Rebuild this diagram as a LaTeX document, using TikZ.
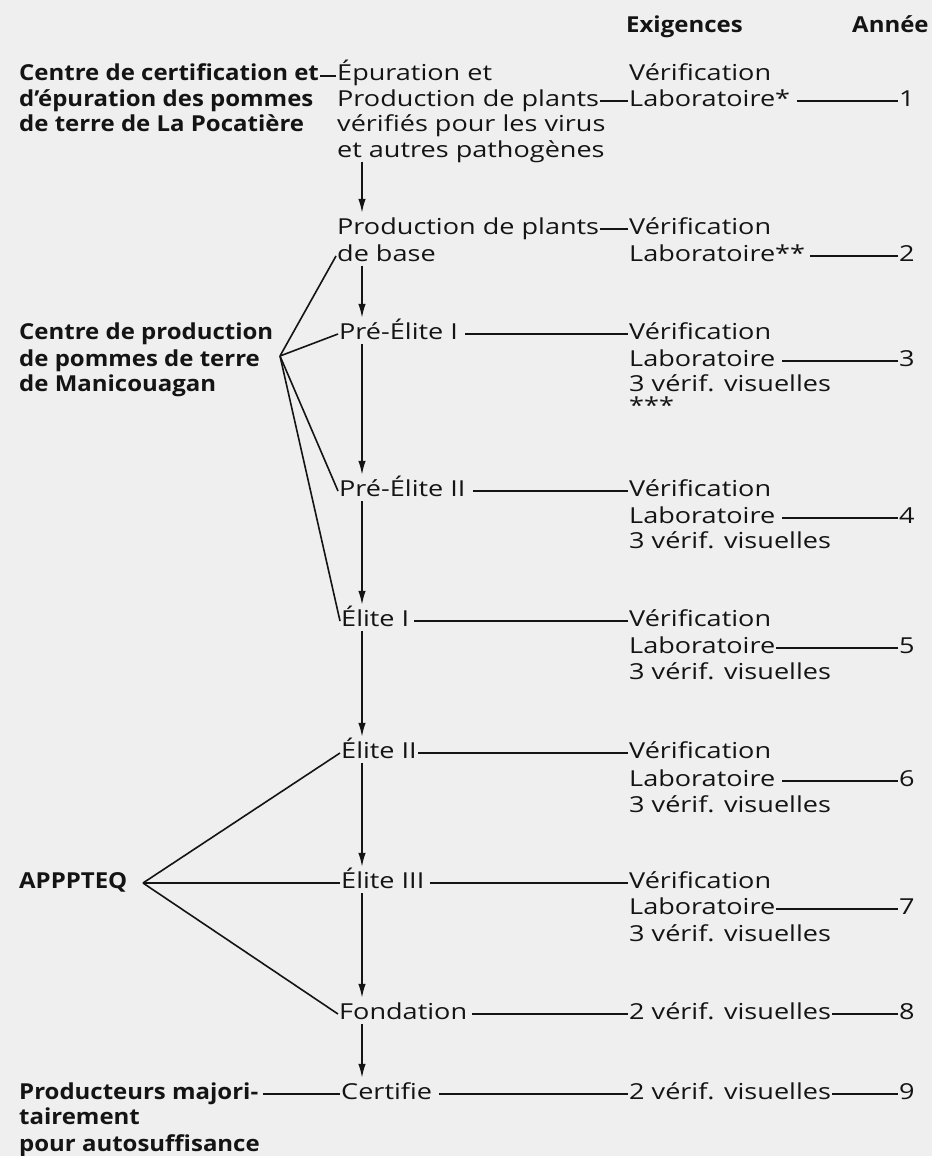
\documentclass[tikz,border=0pt]{standalone}
\usepackage{fontspec}
\setmainfont{Open Sans}[FakeStretch=1.23, BoldFeatures={FakeStretch=1.09}]
\usetikzlibrary{arrows.meta}
\definecolor{bg}{HTML}{EFEFEF}
\definecolor{ink}{HTML}{141414}
\begin{document}
\begin{tikzpicture}[x=1pt,y=-1pt,
  txt/.style={anchor=base west, inner xsep=1pt, inner ysep=0pt, text height=15pt, text depth=5pt, font=\fontsize{22}{26}\selectfont, text=ink},
  hd/.style={txt, font=\fontsize{22}{26}\selectfont\bfseries},
  ln/.style={line width=1.6pt, draw=ink},
  arr/.style={ln, shorten >=6pt, -{Latex[length=14pt,width=7.5pt]}},
]
\fill[bg] (0,0) rectangle (932,1156);
\useasboundingbox (0,0) rectangle (932,1156);
\coordinate (ax) at (362,0);
% headers
\node[hd] (hex) at (625,33) {Exigences};
\node[hd] (han) at (851,33) {Année};
% left column
\node[hd] (c1a) at (18,81) {Centre de certification et};
\node[hd] (c1b) at (18,106) {d’épuration des pommes};
\node[hd] (c1c) at (18,131) {de terre de La Pocatière};
\node[hd] (c2a) at (18,339) {Centre de production};
\node[hd] (c2b) at (18,366) {de pommes de terre};
\node[hd] (c2c) at (18,391) {de Manicouagan};
\node[hd] (app) at (18,888) {APPPTEQ};
\node[hd] (pm1) at (18,1099) {Producteurs majori-};
\node[hd] (pm2) at (18,1124) {tairement};
\node[hd] (pm3) at (18,1151) {pour autosuffisance};
\coordinate (cpv) at (280,356);
\coordinate (apv) at (143,883);
% middle column
\node[txt] (ep1) at (336,81) {Épuration et};
\node[txt] (ep2) at (336,106) {Production de plants};
\node[txt] (ep3) at (336,131) {vérifiés pour les virus};
\node[txt] (ep4) at (336,157) {et autres pathogènes};
\node[txt] (pb1) at (336,234) {Production de plants};
\node[txt] (pb2) at (336,261) {de base};
\node[txt] (pe1) at (338,339) {Pré-Élite I};
\node[txt] (pe2) at (338,496) {Pré-Élite II};
\node[txt] (el1) at (340,626) {Élite I};
\node[txt] (el2) at (340,758) {Élite II};
\node[txt] (el3) at (340,888) {Élite III};
\node[txt] (fon) at (338,1019) {Fondation};
\node[txt] (cer) at (340,1099) {Certifie};
% right column
\node[txt] (v1) at (628,81) {Vérification};
\node[txt] (l1) at (628,106) {Laboratoire*};
\node[txt] (v2) at (628,234) {Vérification};
\node[txt] (l2) at (628,261) {Laboratoire**};
\node[txt] (v3) at (628,339) {Vérification};
\node[txt] (l3) at (628,366) {Laboratoire};
\node[txt] (s3) at (628,391) {3 vérif. visuelles};
\node[txt] (t3) at (628,413) {***};
\node[txt] (v4) at (628,496) {Vérification};
\node[txt] (l4) at (628,523) {Laboratoire};
\node[txt] (s4) at (628,548) {3 vérif. visuelles};
\node[txt] (v5) at (628,626) {Vérification};
\node[txt] (l5) at (628,653) {Laboratoire};
\node[txt] (s5) at (628,679) {3 vérif. visuelles};
\node[txt] (v6) at (628,758) {Vérification};
\node[txt] (l6) at (628,786) {Laboratoire};
\node[txt] (s6) at (628,812) {3 vérif. visuelles};
\node[txt] (v7) at (628,888) {Vérification};
\node[txt] (l7) at (628,914) {Laboratoire};
\node[txt] (s7) at (628,941) {3 vérif. visuelles};
\node[txt] (s8) at (628,1019) {2 vérif. visuelles};
\node[txt] (s9) at (628,1099) {2 vérif. visuelles};
% years
\node[txt] (y1) at (898,106) {1};
\node[txt] (y2) at (898,261) {2};
\node[txt] (y3) at (898,366) {3};
\node[txt] (y4) at (898,523) {4};
\node[txt] (y5) at (898,653) {5};
\node[txt] (y6) at (898,786) {6};
\node[txt] (y7) at (898,914) {7};
\node[txt] (y8) at (898,1019) {8};
\node[txt] (y9) at (898,1099) {9};
% horizontal connectors
\draw[ln] (c1a) -- (ep1);
\draw[ln] (ep2) -- (l1.west |- ep2);
\draw[ln] (pb1) -- (v2);
\draw[ln] ([xshift=6pt]pe1.east) -- (v3);
\draw[ln] ([xshift=6pt]pe2.east) -- (v4);
\draw[ln] ([xshift=4pt]el1.east) -- (v5);
\draw[ln] (el2) -- (v6);
\draw[ln] ([xshift=4pt]el3.east) -- (v7);
\draw[ln] ([xshift=4pt]fon.east) -- (s8);
\draw[ln] ([xshift=6pt]cer.east) -- (s9);
\draw[ln] ([xshift=4pt]pm1.east) -- (cer);
\draw[ln] ([xshift=6pt]l1.east) -- (y1);
\draw[ln] ([xshift=4pt]l2.east) -- (y2);
\draw[ln] ([xshift=6pt]l3.east) -- (y3);
\draw[ln] ([xshift=6pt]l4.east) -- (y4);
\draw[ln] (l5) -- (y5);
\draw[ln] ([xshift=6pt]l6.east) -- (y6);
\draw[ln] (l7) -- (y7);
\draw[ln] (s8) -- (y8);
\draw[ln] (s9) -- (y9);
% branches
\draw[ln] (cpv) -- (pb2.west);
\draw[ln] (cpv) -- (pe1.west);
\draw[ln] (cpv) -- (pe2.west);
\draw[ln] (cpv) -- (el1.west);
\draw[ln] (apv) -- (el2.west);
\draw[ln] (apv) -- (el3.west);
\draw[ln] (apv) -- (fon.west);
% vertical arrows
\draw[arr] (ep4.south -| ax) -- (pb1.north -| ax);
\draw[arr] (pb2.south -| ax) -- (pe1.north -| ax);
\draw[arr] (pe1.south -| ax) -- (pe2.north -| ax);
\draw[arr] (pe2.south -| ax) -- (el1.north -| ax);
\draw[arr] (el1.south -| ax) -- (el2.north -| ax);
\draw[arr] (el2.south -| ax) -- (el3.north -| ax);
\draw[arr] (el3.south -| ax) -- (fon.north -| ax);
\draw[arr] (fon.south -| ax) -- (cer.north -| ax);
\end{tikzpicture}
\end{document}
